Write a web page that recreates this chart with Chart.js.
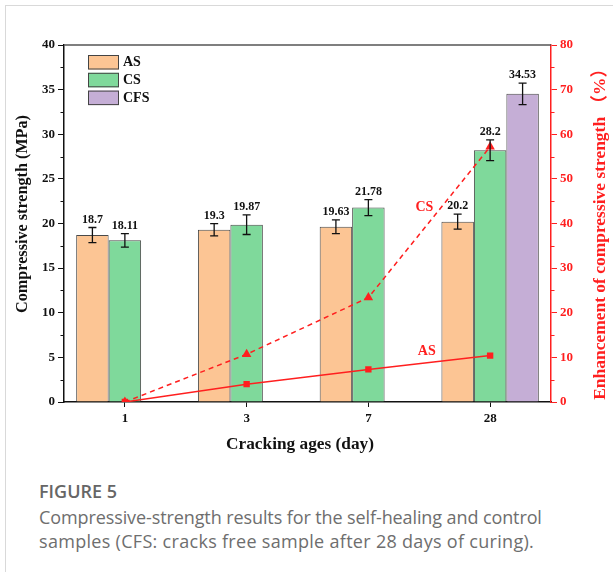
<!DOCTYPE html>
<html>
<head>
<meta charset="utf-8">
<script src="https://cdn.jsdelivr.net/npm/chart.js@4.4.1/dist/chart.umd.min.js"></script>
<style>
  html, body { margin: 0; padding: 0; background: #fff; }
  body { width: 613px; height: 572px; position: relative; overflow: hidden; }
  #frame { position: absolute; left: 5px; top: 5px; width: 620px; height: 580px; border-left: 1.5px solid #d9d9d9; border-top: 1.5px solid #d9d9d9; }
  #wrap { position: absolute; left: 0; top: 0; width: 613px; height: 460px; }
  #cap1 { position: absolute; left: 39px; top: 479px; font-family: "Open Sans", sans-serif; font-weight: 600; font-size: 18px; line-height: 24px; color: #666; }
  .capline { position: absolute; left: 39px; white-space: nowrap; font-family: "Open Sans", sans-serif; font-weight: 400; font-size: 18px; line-height: 24px; color: #6e6e6e; }
  #cap2 { top: 505px; letter-spacing: -0.1px; }
  #cap3 { top: 529px; letter-spacing: 0.3px; }
</style>
</head>
<body>
<div id="frame"></div>
<div id="wrap"><canvas id="c" width="613" height="460"></canvas></div>
<div id="cap1">FIGURE 5</div>
<div id="cap2" class="capline">Compressive-strength results for the self-healing and control</div>
<div id="cap3" class="capline">samples (CFS: cracks free sample after 28 days of curing).</div>
<script>
// ---- data ----
const categories = ['1', '3', '7', '28'];
const asStrength = [18.7, 19.3, 19.63, 20.2];
const csStrength = [18.11, 19.87, 21.78, 28.2];
const cfsStrength = [null, null, null, 34.53];
const asError = [0.85, 0.68, 0.77, 0.84];
const csError = [0.75, 1.1, 0.9, 1.16];
const cfsError = [null, null, null, 1.2];
const asEnhancement = [0, 4.0, 7.3, 10.4];
const csEnhancement = [0, 10.7, 23.4, 57.2];
const seriesNames = ['AS', 'CS', 'CFS'];
const xTitle = 'Cracking ages (day)';
const yTitle = 'Compressive strength (MPa)';
const y2Title = 'Enhancement of compressive strength （%）';

const serif = '"Liberation Serif", "Times New Roman", "DejaVu Serif", "Noto Sans CJK SC", serif';
const RED = '#ff1f1f';

const errorSets = [asError, csError, cfsError];

function fitText(ctx, text, span, base) {
  ctx.font = 'bold ' + base + 'px ' + serif;
  const w = ctx.measureText(text).width;
  const size = Math.min(22, Math.max(10, base * span / w));
  ctx.font = 'bold ' + size.toFixed(2) + 'px ' + serif;
}

const extrasPlugin = {
  id: 'extras',
  afterDatasetsDraw(chart) {
    const ctx = chart.ctx;
    const y = chart.scales.y, y2 = chart.scales.y2, x = chart.scales.x;
    const area = chart.chartArea;
    ctx.save();
    // error bars + value labels
    for (let d = 0; d < 3; d++) {
      const meta = chart.getDatasetMeta(d);
      const vals = chart.data.datasets[d].data;
      meta.data.forEach((el, j) => {
        const v = vals[j];
        if (v === null || v === undefined) return;
        const e = errorSets[d][j] || 0;
        const yt = y.getPixelForValue(v + e), yb = y.getPixelForValue(v - e);
        ctx.strokeStyle = '#111';
        ctx.lineWidth = 1.3;
        ctx.beginPath();
        ctx.moveTo(el.x, yt); ctx.lineTo(el.x, yb);
        ctx.moveTo(el.x - 4, yt); ctx.lineTo(el.x + 4, yt);
        ctx.moveTo(el.x - 4, yb); ctx.lineTo(el.x + 4, yb);
        ctx.stroke();
        ctx.fillStyle = '#111';
        ctx.font = 'bold 12px ' + serif;
        ctx.textAlign = 'center';
        ctx.textBaseline = 'bottom';
        ctx.fillText(String(v), el.x, yt - 2);
      });
    }
    // top frame line
    ctx.strokeStyle = '#555';
    ctx.lineWidth = 1.5;
    ctx.beginPath();
    ctx.moveTo(area.left, area.top); ctx.lineTo(area.right, area.top);
    ctx.stroke();
    // minor ticks
    ctx.lineWidth = 1;
    ctx.strokeStyle = '#111';
    ctx.beginPath();
    for (let v = 2.5; v < 40; v += 5) {
      const py = Math.round(y.getPixelForValue(v)) + 0.5;
      ctx.moveTo(area.left, py); ctx.lineTo(area.left - 3.5, py);
    }
    ctx.stroke();
    ctx.strokeStyle = RED;
    ctx.beginPath();
    for (let v = 5; v < 80; v += 10) {
      const py = Math.round(y2.getPixelForValue(v)) + 0.5;
      ctx.moveTo(area.right, py); ctx.lineTo(area.right + 3.5, py);
    }
    ctx.stroke();
    // legend
    const lx = area.left + 24, ly0 = area.top + 17;
    ctx.font = 'bold 14px ' + serif;
    ctx.textAlign = 'left';
    ctx.textBaseline = 'middle';
    for (let d = 0; d < 3; d++) {
      const ds = chart.data.datasets[d];
      const cy = ly0 + d * 17.8;
      ctx.fillStyle = ds.backgroundColor;
      ctx.fillRect(lx, cy - 7, 31, 14.5);
      ctx.strokeStyle = '#444';
      ctx.lineWidth = 1;
      ctx.strokeRect(lx + 0.5, cy - 7 + 0.5, 30, 13.5);
      ctx.fillStyle = '#111';
      ctx.fillText(ds.label, lx + 35, cy + 0.5);
    }
    // line labels
    const p2 = x.getPixelForValue(2), p3 = x.getPixelForValue(3);
    ctx.fillStyle = RED;
    ctx.font = 'bold 14px ' + serif;
    ctx.textAlign = 'center';
    ctx.fillText('CS', p2 + (p3 - p2) * 0.46, y2.getPixelForValue(43.6));
    ctx.fillText('AS', p2 + (p3 - p2) * 0.48, y2.getPixelForValue(11.3));
    // axis titles
    ctx.textAlign = 'center';
    ctx.textBaseline = 'middle';
    ctx.fillStyle = '#111';
    fitText(ctx, xTitle, 148, 16);
    ctx.fillText(xTitle, 300, 445);
    ctx.save();
    ctx.translate(23, 214);
    ctx.rotate(-Math.PI / 2);
    fitText(ctx, yTitle, 198, 16);
    ctx.fillText(yTitle, 0, 0);
    ctx.restore();
    ctx.save();
    ctx.translate(600, 230);
    ctx.rotate(-Math.PI / 2);
    ctx.fillStyle = RED;
    fitText(ctx, y2Title, 340, 16);
    ctx.fillText(y2Title, 0, 0);
    ctx.restore();
    ctx.restore();
  }
};

const tickFont = { family: serif, weight: 'bold', size: 13 };

new Chart(document.getElementById('c'), {
  type: 'bar',
  data: {
    labels: categories,
    datasets: [
      { label: seriesNames[0], data: asStrength, backgroundColor: '#fcc594', borderColor: '#4a4a4a', borderWidth: 1, yAxisID: 'y', order: 2 },
      { label: seriesNames[1], data: csStrength, backgroundColor: '#7fd99b', borderColor: '#4a4a4a', borderWidth: 1, yAxisID: 'y', order: 2 },
      { label: seriesNames[2], data: cfsStrength, backgroundColor: '#c5aed6', borderColor: '#4a4a4a', borderWidth: 1, yAxisID: 'y', order: 2 },
      { type: 'line', label: 'AS enhancement', data: asEnhancement, yAxisID: 'y2', borderColor: RED, backgroundColor: RED, borderWidth: 1.5, pointStyle: 'rect', pointRadius: 4.5, pointBorderWidth: 0, order: 1 },
      { type: 'line', label: 'CS enhancement', data: csEnhancement, yAxisID: 'y2', borderColor: RED, backgroundColor: RED, borderWidth: 1.5, borderDash: [5, 4], pointStyle: 'triangle', pointRadius: 5.5, pointBorderWidth: 0, order: 1 }
    ]
  },
  options: {
    responsive: false,
    animation: false,
    layout: { padding: { top: 45, bottom: 0, left: 0, right: 0 } },
    datasets: { bar: { categoryPercentage: 0.8, barPercentage: 1.0 } },
    plugins: { legend: { display: false }, tooltip: { enabled: false } },
    scales: {
      x: {
        offset: true,
        grid: { offset: false, drawOnChartArea: false, tickLength: 5, color: '#111', tickWidth: 1 },
        border: { color: '#111', width: 1.5 },
        ticks: { font: tickFont, color: '#111', padding: 4 },
        afterFit(s) { s.height = 58; }
      },
      y: {
        position: 'left', min: 0, max: 40,
        ticks: { stepSize: 5, font: tickFont, color: '#111', padding: 3 },
        grid: { drawOnChartArea: false, tickLength: 6, color: '#111' },
        border: { color: '#111', width: 1.5 },
        afterFit(s) { s.width = 64; }
      },
      y2: {
        position: 'right', min: 0, max: 80,
        ticks: { stepSize: 10, font: tickFont, color: RED, padding: 3 },
        grid: { drawOnChartArea: false, tickLength: 6, color: RED },
        border: { color: RED, width: 1.5 },
        afterFit(s) { s.width = 62; }
      }
    }
  },
  plugins: [extrasPlugin]
});
</script>
</body>
</html>
